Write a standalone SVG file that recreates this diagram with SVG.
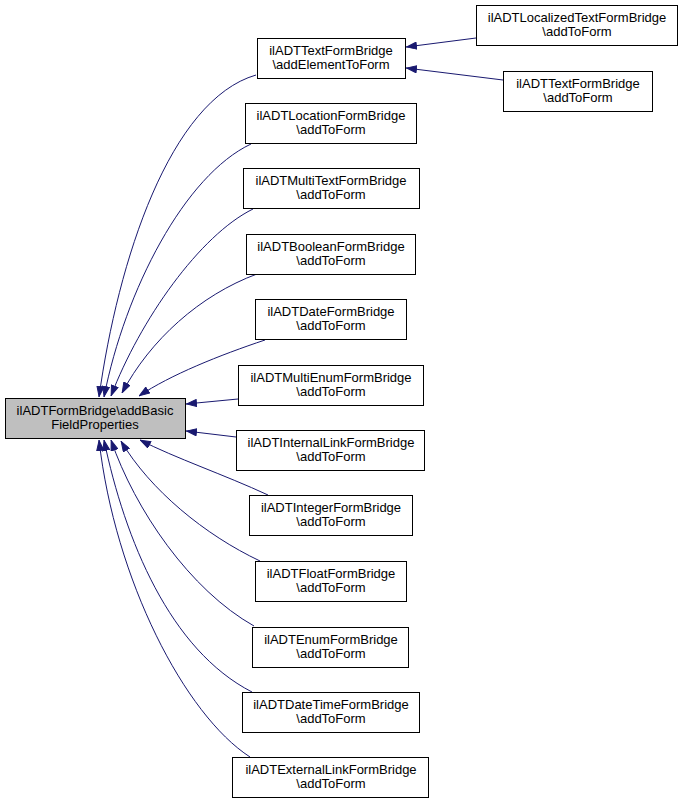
<svg xmlns="http://www.w3.org/2000/svg" width="684" height="803" viewBox="0 0 684 803">
<style>
.node rect{fill:#ffffff;stroke:#000000;stroke-width:1}
.node.main rect{fill:#bfbfbf}
.node text{font-family:"Liberation Sans",Arial,sans-serif;font-size:13px;fill:#000000;text-anchor:middle}
.edge{fill:none;stroke:#191970;stroke-width:1;marker-end:url(#arr)}
</style>
<defs>
<marker id="arr" viewBox="0 0 11 8" refX="11" refY="4" markerUnits="userSpaceOnUse" markerWidth="11" markerHeight="8" orient="auto">
<path d="M0.5,0.5 L10.5,4 L0.5,7.5 Z" fill="#191970" stroke="#191970" stroke-width="1"/>
</marker>
</defs>
<rect width="684" height="803" fill="#ffffff"/>
<g id="connectors">
<path class="edge" d="M256,75 C170,100 118,260 99,397"/>
<path class="edge" d="M251,144 C185,175 125,290 104,397"/>
<path class="edge" d="M253,209 C200,235 140,320 111,396"/>
<path class="edge" d="M257,274 C200,295 150,340 122,393"/>
<path class="edge" d="M265,340 C220,355 170,375 139,396"/>
<path class="edge" d="M238,399 L186,404"/>
<path class="edge" d="M236,437 L186,431"/>
<path class="edge" d="M268,495 C225,475 175,458 140,440"/>
<path class="edge" d="M260,561 C205,535 150,490 121,441"/>
<path class="edge" d="M254,626 C190,590 135,510 111,440"/>
<path class="edge" d="M252,692 C170,650 125,540 104,440"/>
<path class="edge" d="M250,757 C185,715 115,580 99,440"/>
<path class="edge" d="M476,38 L406,47"/>
<path class="edge" d="M503,80 L406,68"/>
</g>
<g id="main" class="node main">
<rect x="5.5" y="398.5" width="180" height="40"/>
<text x="95" y="414.5">ilADTFormBridge\addBasic</text>
<text x="95" y="428.5">FieldProperties</text>
</g>
<g id="textAddElement" class="node">
<rect x="257.5" y="38.5" width="148" height="40"/>
<text x="331" y="55">ilADTTextFormBridge</text>
<text x="331" y="69">\addElementToForm</text>
</g>
<g id="localizedText" class="node">
<rect x="476.5" y="5.5" width="201" height="40"/>
<text x="577" y="22">ilADTLocalizedTextFormBridge</text>
<text x="577" y="36">\addToForm</text>
</g>
<g id="textAddToForm" class="node">
<rect x="503.5" y="71.5" width="149" height="40"/>
<text x="578" y="88">ilADTTextFormBridge</text>
<text x="578" y="102">\addToForm</text>
</g>
<g id="location" class="node">
<rect x="245.5" y="103.5" width="171" height="40"/>
<text x="331" y="120">ilADTLocationFormBridge</text>
<text x="331" y="134">\addToForm</text>
</g>
<g id="multiText" class="node">
<rect x="243.5" y="168.5" width="176" height="40"/>
<text x="331" y="185">ilADTMultiTextFormBridge</text>
<text x="331" y="199">\addToForm</text>
</g>
<g id="boolean" class="node">
<rect x="246.5" y="234.5" width="169" height="40"/>
<text x="331" y="251">ilADTBooleanFormBridge</text>
<text x="331" y="265">\addToForm</text>
</g>
<g id="date" class="node">
<rect x="255.5" y="299.5" width="151" height="40"/>
<text x="331" y="316">ilADTDateFormBridge</text>
<text x="331" y="330">\addToForm</text>
</g>
<g id="multiEnum" class="node">
<rect x="238.5" y="365.5" width="185" height="40"/>
<text x="331" y="382">ilADTMultiEnumFormBridge</text>
<text x="331" y="396">\addToForm</text>
</g>
<g id="internalLink" class="node">
<rect x="236.5" y="430.5" width="188" height="40"/>
<text x="331" y="447">ilADTInternalLinkFormBridge</text>
<text x="331" y="461">\addToForm</text>
</g>
<g id="integer" class="node">
<rect x="249.5" y="495.5" width="163" height="40"/>
<text x="331" y="512">ilADTIntegerFormBridge</text>
<text x="331" y="526">\addToForm</text>
</g>
<g id="float" class="node">
<rect x="255.5" y="561.5" width="151" height="40"/>
<text x="331" y="578">ilADTFloatFormBridge</text>
<text x="331" y="592">\addToForm</text>
</g>
<g id="enum" class="node">
<rect x="252.5" y="627.5" width="156" height="40"/>
<text x="331" y="644">ilADTEnumFormBridge</text>
<text x="331" y="658">\addToForm</text>
</g>
<g id="dateTime" class="node">
<rect x="242.5" y="692.5" width="177" height="40"/>
<text x="331" y="709">ilADTDateTimeFormBridge</text>
<text x="331" y="723">\addToForm</text>
</g>
<g id="externalLink" class="node">
<rect x="232.5" y="757.5" width="196" height="40"/>
<text x="331" y="774">ilADTExternalLinkFormBridge</text>
<text x="331" y="788">\addToForm</text>
</g>
</svg>
